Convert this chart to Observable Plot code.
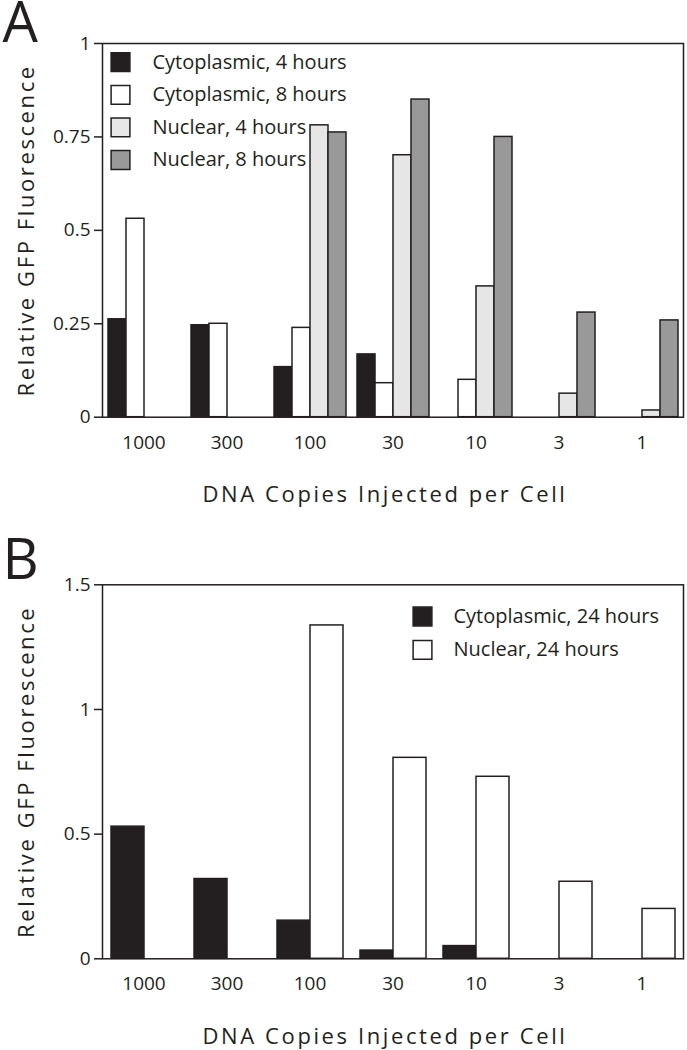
<!DOCTYPE html>
<html><head><meta charset="utf-8">
<script src="https://cdn.jsdelivr.net/npm/d3@7"></script>
<script src="https://cdn.jsdelivr.net/npm/@observablehq/plot@0.6"></script>
<style>
body{margin:0;background:#fff;}
#chart svg{display:block;}
</style></head><body><div id="chart"></div>
<script>
// ---- data ----
const doses = ["1000","300","100","30","10","3","1"];
const seriesA = ["Cytoplasmic, 4 hours","Cytoplasmic, 8 hours","Nuclear, 4 hours","Nuclear, 8 hours"];
const cyto4h = [0.262,0.246,0.134,0.168,0,0,0];
const cyto8h = [0.531,0.250,0.239,0.091,0.100,0,0];
const nuc4h  = [0,0,0.781,0.701,0.350,0.063,0.018];
const nuc8h  = [0,0,0.762,0.850,0.750,0.280,0.259];
const seriesB = ["Cytoplasmic, 24 hours","Nuclear, 24 hours"];
const cyto24h = [0.530,0.320,0.153,0.033,0.051,0,0];
const nuc24h  = [0,0,1.337,0.806,0.730,0.309,0.200];
const yTicksA = [0,0.25,0.5,0.75,1];
const yTickLabelsA = ["0","0.25","0.5","0.75","1"];
const yTicksB = [0,0.5,1,1.5];
const yTickLabelsB = ["0","0.5","1","1.5"];
const xTitle = "DNA Copies Injected per Cell";
const yTitle = "Relative GFP Fluorescence";

// ---- styles ----
const ink = "#231f20";
const colorsA = ["#231f20","#ffffff","#e6e6e6","#999999"];
const colorsB = ["#231f20","#ffffff"];
const font = "'Open Sans', sans-serif";
const W = 687, ML = 100, MR = 2;
const TICK = 12, TICKW = 1.5;

function panel(o) {
  const rows = [];
  o.series.forEach((s, j) => doses.forEach((d, i) => rows.push({dose: d, series: s, value: o.values[j][i]})));
  // the dose groups are equal-width facet bands; a short tick hangs below the baseline at each band's centre
  const frameW = W - ML - MR;
  const frameH = o.height - o.marginTop - o.marginBottom;
  const facetW = frameW / doses.length;
  const ticks = doses.map((d, i) => {
    const cx = facetW * (i + 0.5);
    return Plot.frame({facet: "super", fill: ink, stroke: "none",
      insetLeft: cx - TICKW / 2, insetRight: frameW - cx - TICKW / 2, insetTop: frameH, insetBottom: -TICK});
  });
  const legend = o.series.flatMap((s, i) => [
    Plot.dot([s], {frameAnchor: "top-left", dx: o.legDx, dy: o.legDy + i * o.legStep, symbol: "square", r: 10.6,
      fill: d => d, stroke: ink, strokeWidth: 1.5, facet: "super"}),
    Plot.text([s], {frameAnchor: "top-left", dx: o.legTextDx, dy: o.legDy + i * o.legStep, text: d => d,
      textAnchor: "start", lineAnchor: "middle", fontSize: 20, fill: ink, facet: "super"})
  ]);
  const svg = Plot.plot({
    width: W, height: o.height,
    marginTop: o.marginTop, marginBottom: o.marginBottom, marginLeft: ML, marginRight: MR,
    style: {fontFamily: font, fontSize: "19px", color: ink, background: "transparent"},
    fx: {domain: doses, padding: 0, label: null},
    x: {domain: o.series, paddingInner: 0, paddingOuter: o.barPadOut, axis: null},
    y: {domain: o.yDomain, label: null},
    color: {domain: o.series, range: o.colors},
    marks: [
      Plot.barY(rows.filter(d => d.value > 0), {fx: "dose", x: "series", y: "value", fill: "series",
        stroke: ink, strokeWidth: 1.5}),
      Plot.frame({facet: "super", stroke: ink, strokeWidth: 1.5}),
      ...ticks,
      Plot.axisFx({anchor: "bottom", tickSize: 0, tickPadding: 18, label: null}),
      Plot.axisY({anchor: "left", ticks: o.yTicks, tickFormat: d => o.yLabels[o.yTicks.indexOf(d)],
        tickSize: 8, tickPadding: 4, label: null, stroke: ink, strokeWidth: 1.5}),
      ...legend,
      Plot.text([yTitle], {frameAnchor: "left", dx: -76, rotate: -90, text: d => d, fontSize: 22,
        textAnchor: "middle", lineAnchor: "middle", fill: ink, facet: "super"}),
      Plot.text([xTitle], {frameAnchor: "bottom", dx: -8, dy: 78, text: d => d, fontSize: 22,
        textAnchor: "middle", lineAnchor: "middle", fill: ink, facet: "super"}),
      Plot.text([o.letter], {frameAnchor: "top-left", dx: -100, dy: o.letterDy, text: d => d, fontSize: 56,
        textAnchor: "start", lineAnchor: "top", fill: ink, facet: "super"})
    ]
  });
  svg.querySelectorAll("text").forEach(t => {
    if (t.textContent === xTitle || t.textContent === yTitle) t.setAttribute("letter-spacing", "2.6");
  });
  return svg;
}

const chart = document.getElementById("chart");
chart.append(panel({
  letter: "A", series: seriesA, values: [cyto4h, cyto8h, nuc4h, nuc8h], colors: colorsA,
  yDomain: [0, 1], yTicks: yTicksA, yLabels: yTickLabelsA, barPadOut: 0.2,
  height: 518, marginTop: 43, marginBottom: 101.3,
  legDx: 18, legTextDx: 50, legDy: 18.7, legStep: 32.6, letterDy: -41
}));
chart.append(panel({
  letter: "B", series: seriesB, values: [cyto24h, nuc24h], colors: colorsB,
  yDomain: [0, 1.5], yTicks: yTicksB, yLabels: yTickLabelsB, barPadOut: 0.24,
  height: 532, marginTop: 66.3, marginBottom: 91.7,
  legDx: 320, legTextDx: 351, legDy: 31.7, legStep: 33.3, letterDy: -46
}));
</script></body></html>
